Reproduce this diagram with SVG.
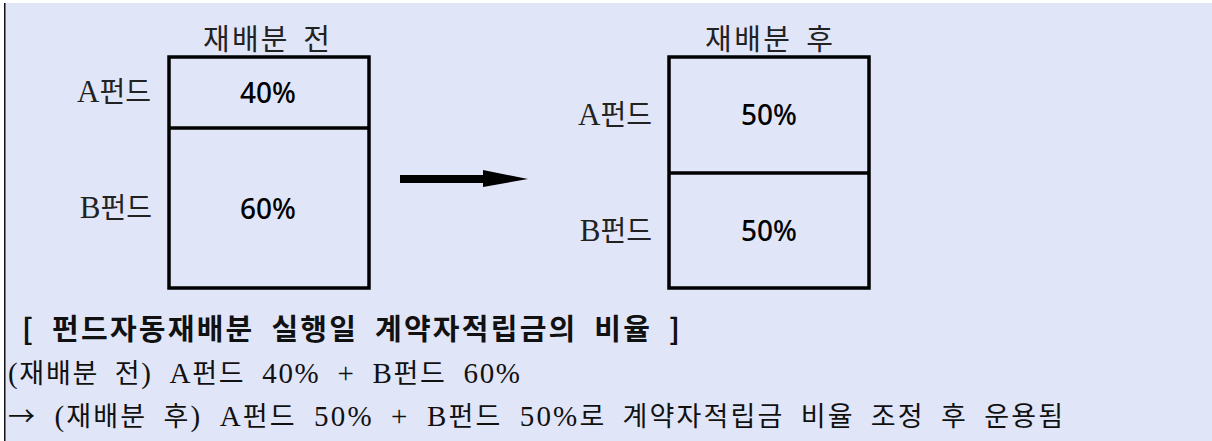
<svg xmlns="http://www.w3.org/2000/svg" width="1212" height="441" viewBox="0 0 1212 441">
<style>
.box{fill:none;stroke:#000;stroke-width:3.5}
.div{stroke:#000;stroke-width:3.5}
.lbl{font-family:"Liberation Serif","Noto Sans CJK KR",serif;font-size:31px;fill:#222}
.lk{font-family:"Noto Sans CJK KR",sans-serif;font-size:28px}
.ttl{font-family:"Noto Sans CJK KR",sans-serif;font-size:29px;fill:#222;word-spacing:5px}
.pct{font-family:"Noto Sans","Liberation Sans",sans-serif;font-size:28px;font-weight:500;fill:#000;text-anchor:middle}
.head{font-family:"Noto Sans CJK KR","Liberation Sans",sans-serif;font-size:29px;font-weight:bold;fill:#111;word-spacing:8px}
.body{font-family:"Liberation Serif","Noto Sans CJK KR",serif;font-size:29px;fill:#111;word-spacing:8px}
.k{font-family:"Noto Sans CJK KR",sans-serif;font-size:27px}
</style>
<rect x="0" y="0" width="1212" height="441" fill="#fff"/>
<rect x="4" y="3" width="1208" height="438" fill="#E1E5F8"/>
<line x1="4.75" y1="3" x2="4.75" y2="441" stroke="#111" stroke-width="1.5"/>
<g id="before">
<text class="ttl" x="203" y="50" textLength="127" lengthAdjust="spacing">재배분 전</text>
<rect class="box" x="169" y="57" width="200" height="231"/>
<line class="div" x1="169" y1="128" x2="369" y2="128"/>
<text class="lbl" x="151" y="102" text-anchor="end">A<tspan class="lk">펀드</tspan></text>
<text class="lbl" x="152" y="218" text-anchor="end">B<tspan class="lk">펀드</tspan></text>
<text class="pct" x="268" y="103">40%</text>
<text class="pct" x="268" y="219">60%</text>
</g>
<g id="after">
<text class="ttl" x="705" y="50" textLength="128" lengthAdjust="spacing">재배분 후</text>
<rect class="box" x="669" y="57" width="200" height="231"/>
<line class="div" x1="669" y1="173" x2="869" y2="173"/>
<text class="lbl" x="652" y="125" text-anchor="end">A<tspan class="lk">펀드</tspan></text>
<text class="lbl" x="652" y="241" text-anchor="end">B<tspan class="lk">펀드</tspan></text>
<text class="pct" x="769" y="125">50%</text>
<text class="pct" x="769" y="241">50%</text>
</g>
<g id="connectors">
<line x1="400" y1="179" x2="486" y2="179" stroke="#000" stroke-width="8"/>
<polygon points="483,170 528,179 483,187" fill="#000"/>
</g>
<g id="caption">
<text class="head" x="22" y="340" textLength="658" lengthAdjust="spacing">[ 펀드자동재배분 실행일 계약자적립금의 비율 ]</text>
<text class="body" x="8" y="383" textLength="512" lengthAdjust="spacing">(<tspan class="k">재배분 전</tspan>) A<tspan class="k">펀드</tspan> 40% + B<tspan class="k">펀드</tspan> 60%</text>
<text class="body" x="8" y="426" textLength="1055" lengthAdjust="spacing"><tspan class="k">→</tspan> (<tspan class="k">재배분 후</tspan>) A<tspan class="k">펀드</tspan> 50% + B<tspan class="k">펀드</tspan> 50%<tspan class="k">로 계약자적립금 비율 조정 후 운용됨</tspan></text>
</g>
</svg>
